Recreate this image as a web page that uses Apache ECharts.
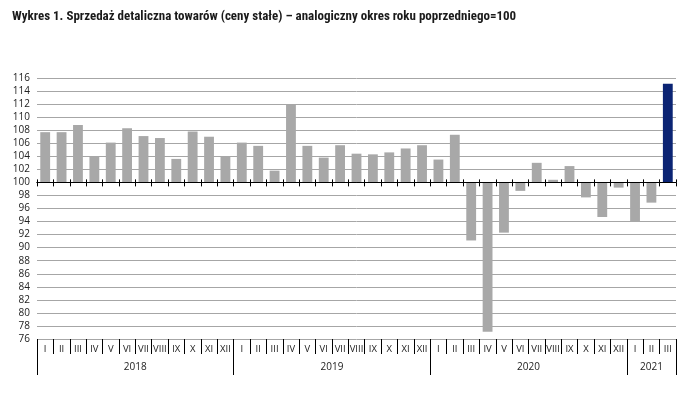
<!DOCTYPE html>
<html>
<head>
<meta charset="utf-8">
<script src="https://cdn.jsdelivr.net/npm/echarts@6/dist/echarts.min.js"></script>
<style>
  html, body { margin: 0; padding: 0; background: #fff; }
  #chart { width: 692px; height: 397px; }
</style>
</head>
<body>
<div id="chart"></div>
<script>
const mychart = echarts.init(document.getElementById('chart'))

// months of each year (2018..2021 III)
var romans = ['I', 'II', 'III', 'IV', 'V', 'VI', 'VII', 'VIII', 'IX', 'X', 'XI', 'XII']
var years = ['2018', '2019', '2020', '2021']
var monthsPerYear = [12, 12, 12, 3]

// retail sales, same period previous year = 100
var values = [
    107.7, 107.7, 108.8, 104.0, 106.1, 108.3, 107.1, 106.8, 103.6, 107.8, 107.0, 104.0,
    106.1, 105.6, 101.8, 111.9, 105.6, 103.8, 105.7, 104.4, 104.3, 104.6, 105.2, 105.7,
    103.5, 107.3, 91.1, 77.1, 92.3, 98.7, 103.0, 100.4, 102.5, 97.7, 94.7, 99.2,
    94.0, 96.9, 115.1
]

var baseLine = 100
var yTicks = { min: 76, max: 116, step: 2 }

var months = []
monthsPerYear.forEach(function (n) {
    for (var i = 0; i < n; i++) months.push(romans[i])
})

// month edges (one slot per boundary) for the separators under the plot
var monthEdges = []
for (var i = 0; i <= months.length; i++) monthEdges.push('')

// half-month slots for the year row: labels in the middle of each year, ticks at its edges
var yearSlots = []
for (var i = 0; i <= months.length * 2; i++) yearSlots.push('')
var yearEdges = [0]
var start = 0
monthsPerYear.forEach(function (n, k) {
    yearSlots[start * 2 + n] = years[k]
    start += n
    yearEdges.push(start * 2)
})

var font = 'Open Sans, sans-serif'
var lastIdx = values.length - 1
var gridBox = { left: 37, right: 16, top: 78, bottom: 58 }
var yMin = yTicks.min - baseLine
var yMax = yTicks.max - baseLine

mychart.setOption({
    animation: false,
    title: {
        text: 'Wykres 1. Sprzedaż detaliczna towarów (ceny stałe) – analogiczny okres roku poprzedniego=100',
        left: 7,
        top: 5,
        textStyle: { fontFamily: 'Liberation Sans Narrow, Roboto Condensed, sans-serif', fontWeight: 'bold', fontSize: 13, color: '#1a1a1a' }
    },
    grid: [gridBox, gridBox],
    xAxis: [
        {   // line at 100, ticks downwards
            type: 'category',
            data: months,
            gridIndex: 0,
            axisLine: { onZero: true, lineStyle: { color: '#000', width: 1 } },
            axisTick: { show: true, interval: 0, length: 4, lineStyle: { color: '#000' } },
            axisLabel: { show: false },
            z: 5
        },
        {   // month names
            type: 'category',
            data: months,
            gridIndex: 0,
            position: 'bottom',
            axisLine: { onZero: false, show: false },
            axisTick: { show: false },
            axisLabel: { fontFamily: font, fontSize: 9.5, color: '#222', margin: 5, interval: 0 }
        },
        {   // month separators
            type: 'category',
            data: monthEdges,
            boundaryGap: false,
            gridIndex: 0,
            position: 'bottom',
            axisLine: { onZero: false, show: false },
            axisTick: { show: true, interval: 0, length: 15, lineStyle: { color: '#000' } },
            axisLabel: { show: false }
        },
        {   // years
            type: 'category',
            data: yearSlots,
            boundaryGap: false,
            gridIndex: 0,
            position: 'bottom',
            axisLine: { onZero: false, show: false },
            axisTick: {
                show: true, length: 36, lineStyle: { color: '#000' },
                interval: function (idx) { return yearEdges.indexOf(idx) >= 0 }
            },
            axisLabel: {
                fontFamily: font, fontSize: 10, color: '#222', margin: 23,
                interval: function (idx, val) { return val !== '' }
            }
        },
        {   // line at 100, ticks upwards (second grid, same box)
            type: 'category',
            data: months,
            gridIndex: 1,
            axisLine: { onZero: true, lineStyle: { color: '#000', width: 1 } },
            axisTick: { show: true, interval: 0, inside: true, length: 3, lineStyle: { color: '#000' } },
            axisLabel: { show: false },
            z: 5
        }
    ],
    yAxis: [
        {
            type: 'value',
            gridIndex: 0,
            min: yMin,
            max: yMax,
            interval: yTicks.step,
            axisLine: { show: false },
            axisTick: { show: false },
            axisLabel: {
                fontFamily: font, fontSize: 10, color: '#222', margin: 7,
                formatter: function (v) { return v + baseLine }
            },
            splitLine: { lineStyle: { color: '#a6a6a6', width: 1 } }
        },
        {
            type: 'value',
            gridIndex: 1,
            min: yMin,
            max: yMax,
            interval: yTicks.step,
            show: false
        }
    ],
    series: [
        {
            type: 'bar',
            xAxisIndex: 0,
            yAxisIndex: 0,
            barCategoryGap: '40%',
            data: values.map(function (v, i) {
                return {
                    value: +(v - baseLine).toFixed(1),
                    itemStyle: { color: i === lastIdx ? '#0b2474' : '#a8a8a8' }
                }
            })
        }
    ]
})
</script>
</body>
</html>
